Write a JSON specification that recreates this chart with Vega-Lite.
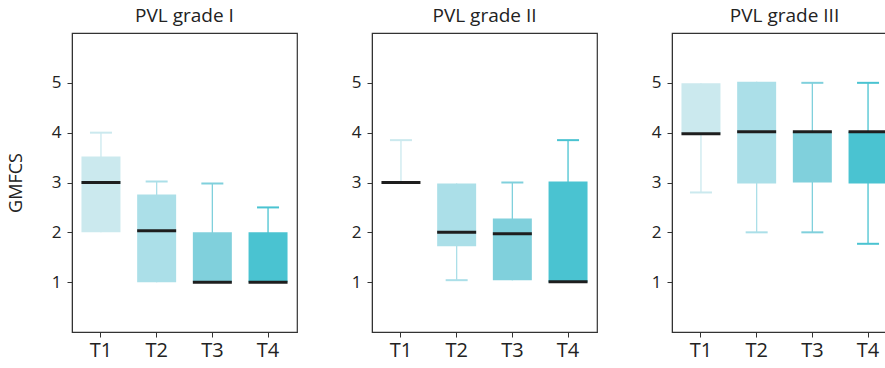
{
  "$schema": "https://vega.github.io/schema/vega-lite/v6.json",
  "padding": {"left": 6, "top": 6, "right": 0, "bottom": 0},
  "background": "white",
  "data": {"values": [
    {"grade": "PVL grade I", "time": "T1", "min": 2, "q1": 2, "median": 3, "q3": 3.52, "max": 4},
    {"grade": "PVL grade I", "time": "T2", "min": 1, "q1": 1, "median": 2.03, "q3": 2.76, "max": 3.02},
    {"grade": "PVL grade I", "time": "T3", "min": 1, "q1": 1, "median": 1, "q3": 2, "max": 2.98},
    {"grade": "PVL grade I", "time": "T4", "min": 1, "q1": 1, "median": 1, "q3": 2, "max": 2.5},
    {"grade": "PVL grade II", "time": "T1", "min": 3, "q1": 3, "median": 3, "q3": 3, "max": 3.85},
    {"grade": "PVL grade II", "time": "T2", "min": 1.04, "q1": 1.72, "median": 2, "q3": 2.98, "max": 2.98},
    {"grade": "PVL grade II", "time": "T3", "min": 1.04, "q1": 1.04, "median": 1.97, "q3": 2.28, "max": 3},
    {"grade": "PVL grade II", "time": "T4", "min": 1, "q1": 1, "median": 1.01, "q3": 3.02, "max": 3.85},
    {"grade": "PVL grade III", "time": "T1", "min": 2.8, "q1": 3.98, "median": 3.98, "q3": 4.99, "max": 4.99},
    {"grade": "PVL grade III", "time": "T2", "min": 2, "q1": 2.98, "median": 4.02, "q3": 5.02, "max": 5.02},
    {"grade": "PVL grade III", "time": "T3", "min": 2, "q1": 3, "median": 4.02, "q3": 4.02, "max": 5},
    {"grade": "PVL grade III", "time": "T4", "min": 1.77, "q1": 2.98, "median": 4.02, "q3": 4.02, "max": 5}
  ]},
  "config": {
    "font": "Open Sans",
    "view": {"stroke": "#333", "strokeWidth": 1.2},
    "axis": {"domainColor": "#333", "tickColor": "#333", "labelColor": "#222", "titleColor": "#222", "grid": false, "tickSize": 5},
    "title": {"fontSize": 19, "fontWeight": "normal", "color": "#222", "offset": 7},
    "tick": {"opacity": 1}
  },
  "bounds": "flush",
  "spacing": 75,
  "hconcat": [
    {
      "width": 225, "height": 299,
      "title": "PVL grade I",
      "transform": [{"filter": "datum.grade == 'PVL grade I'"}],
      "encoding": {
        "x": {"field": "time", "type": "nominal", "scale": {"paddingInner": 0.3, "paddingOuter": 0.17}, "axis": {"title": null, "labelAngle": 0, "labelFontSize": 20, "labelPadding": 3}}
      },
      "layer": [
        {"mark": {"type": "rule", "strokeWidth": 1.3}, "encoding": {"y": {"field": "min", "type": "quantitative", "scale": {"domain": [0, 6], "nice": false}, "axis": {"values": [1, 2, 3, 4, 5], "title": "GMFCS", "titleFontSize": 18, "titleFontWeight": "normal", "titlePadding": 26, "labelFontSize": 17, "labelPadding": 6}}, "y2": {"field": "max"}, "color": {"field": "time", "type": "nominal", "scale": {"domain": ["T1", "T2", "T3", "T4"], "range": ["#cbe9ee", "#abdfe8", "#80d0dc", "#4ac3d1"]}, "legend": null}}},
        {"mark": {"type": "bar"}, "encoding": {"y": {"field": "q1", "type": "quantitative"}, "y2": {"field": "q3"}, "color": {"field": "time", "type": "nominal", "legend": null}}},
        {"transform": [{"filter": "datum.max > datum.q3"}], "mark": {"type": "tick", "size": 22, "thickness": 2}, "encoding": {"y": {"field": "max", "type": "quantitative"}, "color": {"field": "time", "type": "nominal", "legend": null}}},
        {"transform": [{"filter": "datum.min < datum.q1"}], "mark": {"type": "tick", "size": 22, "thickness": 2}, "encoding": {"y": {"field": "min", "type": "quantitative"}, "color": {"field": "time", "type": "nominal", "legend": null}}},
        {"mark": {"type": "tick", "size": 39, "thickness": 3, "color": "#1e1e1e"}, "encoding": {"y": {"field": "median", "type": "quantitative"}}}
      ]
    },
    {
      "width": 225, "height": 299,
      "title": "PVL grade II",
      "transform": [{"filter": "datum.grade == 'PVL grade II'"}],
      "encoding": {
        "x": {"field": "time", "type": "nominal", "scale": {"paddingInner": 0.3, "paddingOuter": 0.17}, "axis": {"title": null, "labelAngle": 0, "labelFontSize": 20, "labelPadding": 3}}
      },
      "layer": [
        {"mark": {"type": "rule", "strokeWidth": 1.3}, "encoding": {"y": {"field": "min", "type": "quantitative", "scale": {"domain": [0, 6], "nice": false}, "axis": {"values": [1, 2, 3, 4, 5], "title": null, "labelFontSize": 17, "labelPadding": 6}}, "y2": {"field": "max"}, "color": {"field": "time", "type": "nominal", "scale": {"domain": ["T1", "T2", "T3", "T4"], "range": ["#cbe9ee", "#abdfe8", "#80d0dc", "#4ac3d1"]}, "legend": null}}},
        {"mark": {"type": "bar"}, "encoding": {"y": {"field": "q1", "type": "quantitative"}, "y2": {"field": "q3"}, "color": {"field": "time", "type": "nominal", "legend": null}}},
        {"transform": [{"filter": "datum.max > datum.q3"}], "mark": {"type": "tick", "size": 22, "thickness": 2}, "encoding": {"y": {"field": "max", "type": "quantitative"}, "color": {"field": "time", "type": "nominal", "legend": null}}},
        {"transform": [{"filter": "datum.min < datum.q1"}], "mark": {"type": "tick", "size": 22, "thickness": 2}, "encoding": {"y": {"field": "min", "type": "quantitative"}, "color": {"field": "time", "type": "nominal", "legend": null}}},
        {"mark": {"type": "tick", "size": 39, "thickness": 3, "color": "#1e1e1e"}, "encoding": {"y": {"field": "median", "type": "quantitative"}}}
      ]
    },
    {
      "width": 225, "height": 299,
      "title": "PVL grade III",
      "transform": [{"filter": "datum.grade == 'PVL grade III'"}],
      "encoding": {
        "x": {"field": "time", "type": "nominal", "scale": {"paddingInner": 0.3, "paddingOuter": 0.17}, "axis": {"title": null, "labelAngle": 0, "labelFontSize": 20, "labelPadding": 3}}
      },
      "layer": [
        {"mark": {"type": "rule", "strokeWidth": 1.3}, "encoding": {"y": {"field": "min", "type": "quantitative", "scale": {"domain": [0, 6], "nice": false}, "axis": {"values": [1, 2, 3, 4, 5], "title": null, "labelFontSize": 17, "labelPadding": 6}}, "y2": {"field": "max"}, "color": {"field": "time", "type": "nominal", "scale": {"domain": ["T1", "T2", "T3", "T4"], "range": ["#cbe9ee", "#abdfe8", "#80d0dc", "#4ac3d1"]}, "legend": null}}},
        {"mark": {"type": "bar"}, "encoding": {"y": {"field": "q1", "type": "quantitative"}, "y2": {"field": "q3"}, "color": {"field": "time", "type": "nominal", "legend": null}}},
        {"transform": [{"filter": "datum.max > datum.q3"}], "mark": {"type": "tick", "size": 22, "thickness": 2}, "encoding": {"y": {"field": "max", "type": "quantitative"}, "color": {"field": "time", "type": "nominal", "legend": null}}},
        {"transform": [{"filter": "datum.min < datum.q1"}], "mark": {"type": "tick", "size": 22, "thickness": 2}, "encoding": {"y": {"field": "min", "type": "quantitative"}, "color": {"field": "time", "type": "nominal", "legend": null}}},
        {"mark": {"type": "tick", "size": 39, "thickness": 3, "color": "#1e1e1e"}, "encoding": {"y": {"field": "median", "type": "quantitative"}}}
      ]
    }
  ]
}
